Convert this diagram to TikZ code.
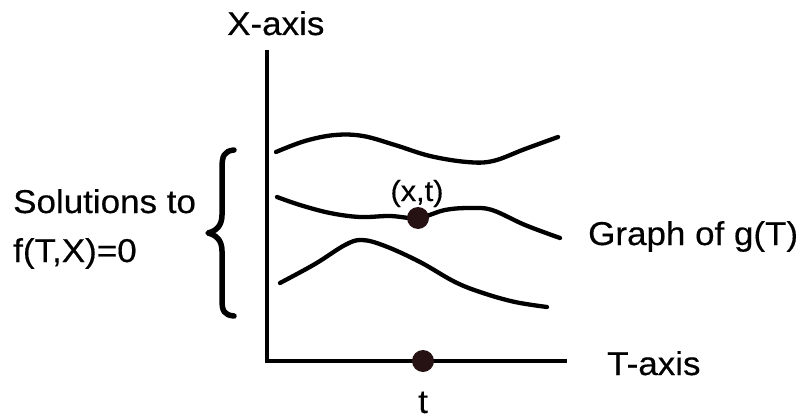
\documentclass[tikz,border=0pt]{standalone}
\usepackage{fontspec}
\setmainfont[FakeStretch=1.06,FakeBold=0.4]{Liberation Sans}
\begin{document}
\begin{tikzpicture}[x=1pt,y=-1pt,
  lbl/.style={font=\fontsize{33}{33}\selectfont, inner sep=0pt, anchor=base west},
  curve/.style={line width=4.3pt, line cap=round, line join=round},
  axis/.style={line width=4.5pt, line join=miter},
  dot/.style={circle, fill=dotc, inner sep=0pt, minimum size=22pt}]
\definecolor{dotc}{RGB}{38,18,18}
\useasboundingbox (0,0) rectangle (800,420);
% axes
\coordinate (ytop) at (267,50);
\coordinate (orig) at (267,361);
\coordinate (xend) at (567,361);
\draw[axis] (ytop) -- (orig) -- (xend);
% curves
\draw[curve] plot[smooth, tension=0.6] coordinates {(276,152) (305,141) (335,135) (363,136) (395,145) (430,156) (467,162) (493,161) (525,149) (558,137)};
\draw[curve] plot[smooth, tension=0.6] coordinates {(277,197) (300,205) (330,213) (360,217) (390,216) (418,218) (445,210) (470,208) (492,210) (525,225) (560,238)};
\draw[curve] plot[smooth, tension=0.6] coordinates {(280,283) (315,264) (345,245) (362,240) (385,246) (420,262) (455,282) (483,293) (515,302) (547,307)};
% dots
\node[dot] (tdot) at (423,361) {};
\node[dot] (xtdot) at (418,218) {};
% brace
\draw[line width=5.5pt, line cap=round, line join=round] (234,150) .. controls (224,151) and (222,156) .. (222,168) -- (222,215) .. controls (222,226) and (216,231) .. (208,233) .. controls (216,235) and (222,240) .. (222,251) -- (222,300) .. controls (222,311) and (224,315) .. (234,316);
% labels
\node[lbl] (xaxis) at (227,35) {X-axis};
\node[lbl] (taxis) at (607,375) {T-axis};
\node[lbl, anchor=base] (tlbl) at (423,413) {t};
\node[lbl, font=\fontsize{29}{29}\selectfont, anchor=base] (xtlbl) at (417,201) {(x,t)};
\node[lbl] (graph) at (588,245) {Graph of g(T)};
\node[lbl] (sol1) at (13,213) {Solutions to};
\node[lbl] (sol2) at (13,262) {f(T,X)=0};
\end{tikzpicture}
\end{document}
